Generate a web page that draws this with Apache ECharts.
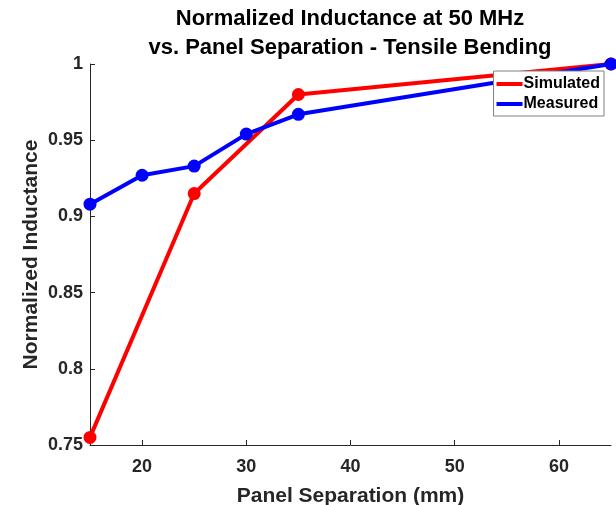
<!DOCTYPE html>
<html>
<head>
<meta charset="utf-8">
<script src="https://cdn.jsdelivr.net/npm/echarts@6/dist/echarts.min.js"></script>
<style>
  html, body { margin: 0; padding: 0; background: #fff; }
  #chart { width: 616px; height: 505px; }
</style>
</head>
<body>
<div id="chart"></div>
<script>
// panel separation (mm) and normalized inductance
const simX = [15, 25, 35, 65]
const simY = [0.755, 0.915, 0.98, 1.0]
const measX = [15, 20, 25, 30, 35, 65]
const measY = [0.908, 0.927, 0.933, 0.954, 0.967, 1.0]
const xTicks = [20, 30, 40, 50, 60]

const font = 'Liberation Sans, Arial, sans-serif'
const chart = echarts.init(document.getElementById('chart'))

chart.setOption({
  animation: false,
  title: {
    text: 'Normalized Inductance at 50 MHz\nvs. Panel Separation - Tensile Bending',
    left: 350,
    textAlign: 'center',
    top: 4,
    padding: 0,
    textStyle: {
      fontFamily: font,
      fontSize: 22,
      fontWeight: 'bold',
      color: '#000',
      lineHeight: 29
    }
  },
  legend: {
    orient: 'vertical',
    right: 12,
    top: 71,
    backgroundColor: '#fff',
    borderColor: '#808080',
    borderWidth: 1,
    padding: [5, 4, 4, 3],
    itemGap: 4,
    itemWidth: 26,
    itemHeight: 4,
    icon: 'rect',
    textStyle: { fontFamily: font, fontSize: 16, fontWeight: 'bold', color: '#000', padding: [0, 0, 0, -4] },
    data: ['Simulated', 'Measured']
  },
  grid: { left: 90, right: 5, top: 64, bottom: 60, outerBoundsMode: 'none' },
  xAxis: {
    type: 'value',
    min: 15,
    max: 65,
    name: 'Panel Separation (mm)',
    nameLocation: 'middle',
    nameGap: 41,
    nameTextStyle: { fontFamily: font, fontSize: 21, fontWeight: 'bold', color: '#262626' },
    axisLine: { lineStyle: { color: '#262626', width: 1 } },
    axisTick: { inside: true, length: 5, customValues: xTicks, lineStyle: { color: '#262626' } },
    axisLabel: { customValues: xTicks, margin: 13, fontFamily: font, fontSize: 18, fontWeight: 'bold', color: '#262626' },
    splitLine: { show: false }
  },
  yAxis: {
    type: 'value',
    min: 0.75,
    max: 1,
    interval: 0.05,
    name: 'Normalized Inductance',
    nameLocation: 'middle',
    nameGap: 48,
    nameMoveOverlap: false,
    nameTextStyle: { fontFamily: font, fontSize: 21, fontWeight: 'bold', color: '#262626' },
    axisLine: { show: true, lineStyle: { color: '#262626', width: 1 } },
    axisTick: { show: true, inside: true, length: 5, lineStyle: { color: '#262626' } },
    axisLabel: { margin: 7, fontFamily: font, fontSize: 18, fontWeight: 'bold', color: '#262626' },
    splitLine: { show: false }
  },
  series: [
    {
      name: 'Simulated',
      type: 'line',
      data: simX.map((x, i) => [x, simY[i]]),
      color: '#ff0000',
      lineStyle: { width: 4 },
      symbol: 'circle',
      symbolSize: 13,
      clip: false,
      z: 2
    },
    {
      name: 'Measured',
      type: 'line',
      data: measX.map((x, i) => [x, measY[i]]),
      color: '#0000ff',
      lineStyle: { width: 4 },
      symbol: 'circle',
      symbolSize: 13,
      clip: false,
      z: 3
    }
  ]
})
</script>
</body>
</html>
